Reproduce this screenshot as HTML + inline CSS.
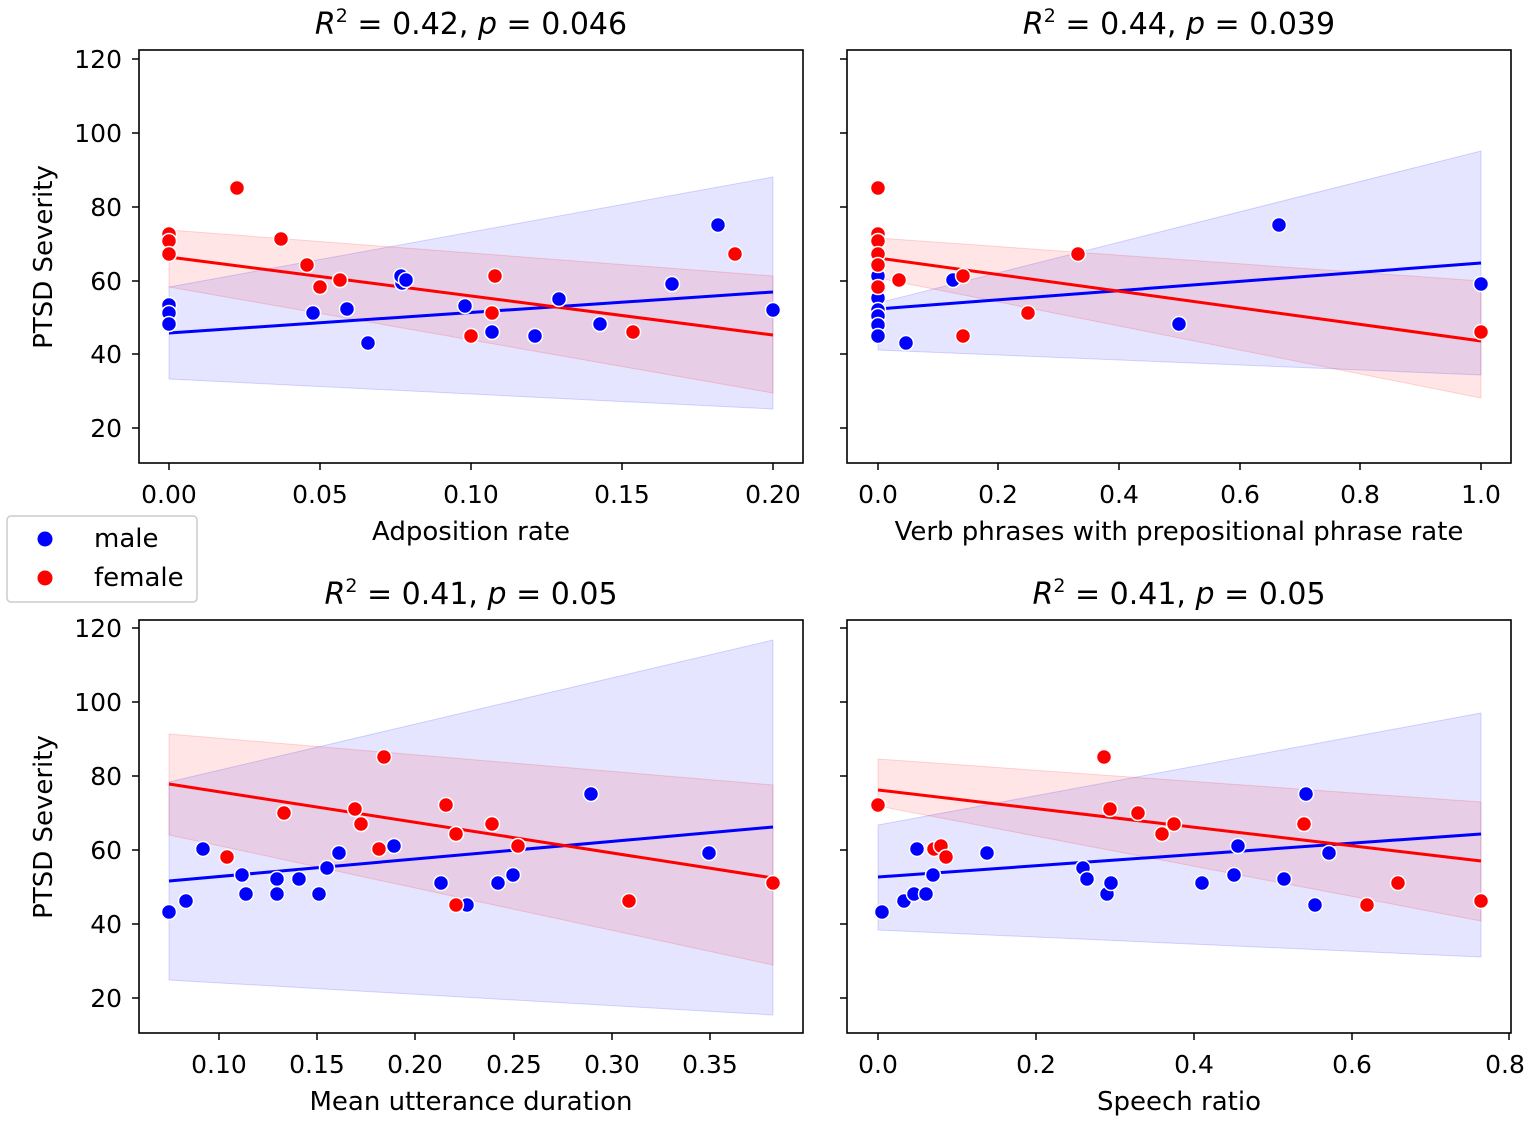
<!DOCTYPE html>
<html><head><meta charset="utf-8"><style>
body{margin:0;background:#fff}
svg text{font-family:"DejaVu Sans","Liberation Sans",sans-serif;fill:#000}
</style></head><body>
<svg width="1535" height="1121" viewBox="0 0 1535 1121" xmlns="http://www.w3.org/2000/svg">
<rect width="1535" height="1121" fill="#fff"/>
<!-- Panel 1 -->
<polygon points="169,287 773,177 773,409 169,379" fill="#0000ff" fill-opacity="0.1" stroke="#0000ff" stroke-opacity="0.15"/>
<polygon points="169,230 773,276 773,393 169,287" fill="#ff0000" fill-opacity="0.1" stroke="#ff0000" stroke-opacity="0.15"/>
<line x1="169" y1="333" x2="773" y2="292" stroke="#0000ff" stroke-width="3"/>
<line x1="169" y1="257" x2="773" y2="335" stroke="#ff0000" stroke-width="3"/>
<g fill="#0000ff" stroke="#fff" stroke-width="1.5">
<circle cx="169" cy="305" r="7.5"/><circle cx="169" cy="313" r="7.5"/><circle cx="169" cy="324" r="7.5"/><circle cx="313" cy="313" r="7.5"/><circle cx="347" cy="309" r="7.5"/><circle cx="368" cy="343" r="7.5"/><circle cx="402" cy="283" r="7.5"/><circle cx="401" cy="276" r="7.5"/><circle cx="406" cy="280" r="7.5"/><circle cx="465" cy="306" r="7.5"/><circle cx="492" cy="332" r="7.5"/><circle cx="535" cy="336" r="7.5"/><circle cx="559" cy="299" r="7.5"/><circle cx="600" cy="324" r="7.5"/><circle cx="672" cy="284" r="7.5"/><circle cx="718" cy="225" r="7.5"/><circle cx="773" cy="310" r="7.5"/></g>
<g fill="#ff0000" stroke="#fff" stroke-width="1.5">
<circle cx="169" cy="234" r="7.5"/><circle cx="169" cy="241" r="7.5"/><circle cx="169" cy="254" r="7.5"/><circle cx="237" cy="188" r="7.5"/><circle cx="281" cy="239" r="7.5"/><circle cx="307" cy="265" r="7.5"/><circle cx="320" cy="287" r="7.5"/><circle cx="340" cy="280" r="7.5"/><circle cx="471" cy="336" r="7.5"/><circle cx="492" cy="313" r="7.5"/><circle cx="495" cy="276" r="7.5"/><circle cx="633" cy="332" r="7.5"/><circle cx="735" cy="254" r="7.5"/></g>
<!-- Panel 2 -->
<polygon points="878,303 1481,151 1481,375 878,350" fill="#0000ff" fill-opacity="0.1" stroke="#0000ff" stroke-opacity="0.15"/>
<polygon points="878,238 1481,281 1481,398 878,278" fill="#ff0000" fill-opacity="0.1" stroke="#ff0000" stroke-opacity="0.15"/>
<line x1="878" y1="309" x2="1481" y2="263" stroke="#0000ff" stroke-width="3"/>
<line x1="878" y1="258" x2="1481" y2="341" stroke="#ff0000" stroke-width="3"/>
<g fill="#0000ff" stroke="#fff" stroke-width="1.5">
<circle cx="878" cy="276" r="7.5"/><circle cx="878" cy="289" r="7.5"/><circle cx="878" cy="298" r="7.5"/><circle cx="878" cy="310" r="7.5"/><circle cx="878" cy="316" r="7.5"/><circle cx="878" cy="325" r="7.5"/><circle cx="878" cy="336" r="7.5"/><circle cx="906" cy="343" r="7.5"/><circle cx="953" cy="280" r="7.5"/><circle cx="1179" cy="324" r="7.5"/><circle cx="1279" cy="225" r="7.5"/><circle cx="1481" cy="284" r="7.5"/></g>
<g fill="#ff0000" stroke="#fff" stroke-width="1.5">
<circle cx="878" cy="188" r="7.5"/><circle cx="878" cy="234" r="7.5"/><circle cx="878" cy="241" r="7.5"/><circle cx="878" cy="254" r="7.5"/><circle cx="878" cy="265" r="7.5"/><circle cx="878" cy="287" r="7.5"/><circle cx="899" cy="280" r="7.5"/><circle cx="963" cy="276" r="7.5"/><circle cx="963" cy="336" r="7.5"/><circle cx="1028" cy="313" r="7.5"/><circle cx="1078" cy="254" r="7.5"/><circle cx="1481" cy="332" r="7.5"/></g>
<!-- Panel 3 -->
<polygon points="169,782 773,640 773,1015 169,980" fill="#0000ff" fill-opacity="0.1" stroke="#0000ff" stroke-opacity="0.15"/>
<polygon points="169,734 773,785 773,965 169,835" fill="#ff0000" fill-opacity="0.1" stroke="#ff0000" stroke-opacity="0.15"/>
<line x1="169" y1="881" x2="773" y2="827" stroke="#0000ff" stroke-width="3"/>
<line x1="169" y1="784" x2="773" y2="878" stroke="#ff0000" stroke-width="3"/>
<g fill="#0000ff" stroke="#fff" stroke-width="1.5">
<circle cx="169" cy="912" r="7.5"/><circle cx="186" cy="901" r="7.5"/><circle cx="203" cy="849" r="7.5"/><circle cx="242" cy="875" r="7.5"/><circle cx="246" cy="894" r="7.5"/><circle cx="277" cy="879" r="7.5"/><circle cx="277" cy="894" r="7.5"/><circle cx="299" cy="879" r="7.5"/><circle cx="319" cy="894" r="7.5"/><circle cx="327" cy="868" r="7.5"/><circle cx="339" cy="853" r="7.5"/><circle cx="394" cy="846" r="7.5"/><circle cx="441" cy="883" r="7.5"/><circle cx="467" cy="905" r="7.5"/><circle cx="498" cy="883" r="7.5"/><circle cx="513" cy="875" r="7.5"/><circle cx="591" cy="794" r="7.5"/><circle cx="709" cy="853" r="7.5"/></g>
<g fill="#ff0000" stroke="#fff" stroke-width="1.5">
<circle cx="227" cy="857" r="7.5"/><circle cx="284" cy="813" r="7.5"/><circle cx="355" cy="809" r="7.5"/><circle cx="361" cy="824" r="7.5"/><circle cx="379" cy="849" r="7.5"/><circle cx="384" cy="757" r="7.5"/><circle cx="446" cy="805" r="7.5"/><circle cx="456" cy="834" r="7.5"/><circle cx="456" cy="905" r="7.5"/><circle cx="492" cy="824" r="7.5"/><circle cx="518" cy="846" r="7.5"/><circle cx="629" cy="901" r="7.5"/><circle cx="773" cy="883" r="7.5"/></g>
<!-- Panel 4 -->
<polygon points="878,825 1481,713 1481,957 878,930" fill="#0000ff" fill-opacity="0.1" stroke="#0000ff" stroke-opacity="0.15"/>
<polygon points="878,759 1481,802 1481,921 878,806" fill="#ff0000" fill-opacity="0.1" stroke="#ff0000" stroke-opacity="0.15"/>
<line x1="878" y1="877" x2="1481" y2="834" stroke="#0000ff" stroke-width="3"/>
<line x1="878" y1="790" x2="1481" y2="861" stroke="#ff0000" stroke-width="3"/>
<g fill="#0000ff" stroke="#fff" stroke-width="1.5">
<circle cx="882" cy="912" r="7.5"/><circle cx="904" cy="901" r="7.5"/><circle cx="914" cy="894" r="7.5"/><circle cx="917" cy="849" r="7.5"/><circle cx="926" cy="894" r="7.5"/><circle cx="933" cy="875" r="7.5"/><circle cx="987" cy="853" r="7.5"/><circle cx="1083" cy="868" r="7.5"/><circle cx="1087" cy="879" r="7.5"/><circle cx="1107" cy="894" r="7.5"/><circle cx="1111" cy="883" r="7.5"/><circle cx="1202" cy="883" r="7.5"/><circle cx="1234" cy="875" r="7.5"/><circle cx="1238" cy="846" r="7.5"/><circle cx="1284" cy="879" r="7.5"/><circle cx="1306" cy="794" r="7.5"/><circle cx="1315" cy="905" r="7.5"/><circle cx="1329" cy="853" r="7.5"/></g>
<g fill="#ff0000" stroke="#fff" stroke-width="1.5">
<circle cx="878" cy="805" r="7.5"/><circle cx="934" cy="849" r="7.5"/><circle cx="941" cy="846" r="7.5"/><circle cx="946" cy="857" r="7.5"/><circle cx="1104" cy="757" r="7.5"/><circle cx="1110" cy="809" r="7.5"/><circle cx="1138" cy="813" r="7.5"/><circle cx="1162" cy="834" r="7.5"/><circle cx="1174" cy="824" r="7.5"/><circle cx="1304" cy="824" r="7.5"/><circle cx="1367" cy="905" r="7.5"/><circle cx="1398" cy="883" r="7.5"/><circle cx="1481" cy="901" r="7.5"/></g>
<!-- Frames -->
<g fill="none" stroke="#000" stroke-width="1.6">
<rect x="139" y="50" width="664" height="413"/><rect x="847" y="50" width="664" height="413"/>
<rect x="139" y="620" width="664" height="413"/><rect x="847" y="620" width="664" height="413"/>
</g>
<!-- Y ticks -->
<g stroke="#000" stroke-width="1.5">
<line x1="132" y1="59" x2="139" y2="59"/><line x1="132" y1="133" x2="139" y2="133"/><line x1="132" y1="207" x2="139" y2="207"/><line x1="132" y1="281" x2="139" y2="281"/><line x1="132" y1="354" x2="139" y2="354"/><line x1="132" y1="428" x2="139" y2="428"/>
<line x1="840" y1="59" x2="847" y2="59"/><line x1="840" y1="133" x2="847" y2="133"/><line x1="840" y1="207" x2="847" y2="207"/><line x1="840" y1="281" x2="847" y2="281"/><line x1="840" y1="354" x2="847" y2="354"/><line x1="840" y1="428" x2="847" y2="428"/>
<line x1="132" y1="628" x2="139" y2="628"/><line x1="132" y1="702" x2="139" y2="702"/><line x1="132" y1="776" x2="139" y2="776"/><line x1="132" y1="850" x2="139" y2="850"/><line x1="132" y1="924" x2="139" y2="924"/><line x1="132" y1="998" x2="139" y2="998"/>
<line x1="840" y1="628" x2="847" y2="628"/><line x1="840" y1="702" x2="847" y2="702"/><line x1="840" y1="776" x2="847" y2="776"/><line x1="840" y1="850" x2="847" y2="850"/><line x1="840" y1="924" x2="847" y2="924"/><line x1="840" y1="998" x2="847" y2="998"/>
<line x1="169" y1="463" x2="169" y2="470"/><line x1="320" y1="463" x2="320" y2="470"/><line x1="471" y1="463" x2="471" y2="470"/><line x1="622" y1="463" x2="622" y2="470"/><line x1="773" y1="463" x2="773" y2="470"/>
<line x1="878" y1="463" x2="878" y2="470"/><line x1="998" y1="463" x2="998" y2="470"/><line x1="1119" y1="463" x2="1119" y2="470"/><line x1="1240" y1="463" x2="1240" y2="470"/><line x1="1360" y1="463" x2="1360" y2="470"/><line x1="1481" y1="463" x2="1481" y2="470"/>
<line x1="219" y1="1033" x2="219" y2="1040"/><line x1="317" y1="1033" x2="317" y2="1040"/><line x1="415" y1="1033" x2="415" y2="1040"/><line x1="514" y1="1033" x2="514" y2="1040"/><line x1="612" y1="1033" x2="612" y2="1040"/><line x1="710" y1="1033" x2="710" y2="1040"/>
<line x1="878" y1="1033" x2="878" y2="1040"/><line x1="1036" y1="1033" x2="1036" y2="1040"/><line x1="1194" y1="1033" x2="1194" y2="1040"/><line x1="1352" y1="1033" x2="1352" y2="1040"/><line x1="1509" y1="1033" x2="1509" y2="1040"/>
</g>
<g font-size="25" text-anchor="end">
<text x="122" y="68">120</text><text x="122" y="142">100</text><text x="122" y="216">80</text><text x="122" y="290">60</text><text x="122" y="363">40</text><text x="122" y="437">20</text>
<text x="122" y="637">120</text><text x="122" y="711">100</text><text x="122" y="785">80</text><text x="122" y="859">60</text><text x="122" y="933">40</text><text x="122" y="1007">20</text>
</g>
<g font-size="25" text-anchor="middle">
<text x="169" y="503">0.00</text><text x="320" y="503">0.05</text><text x="471" y="503">0.10</text><text x="622" y="503">0.15</text><text x="773" y="503">0.20</text>
<text x="878" y="503">0.0</text><text x="998" y="503">0.2</text><text x="1119" y="503">0.4</text><text x="1240" y="503">0.6</text><text x="1360" y="503">0.8</text><text x="1481" y="503">1.0</text>
<text x="219" y="1073">0.10</text><text x="317" y="1073">0.15</text><text x="415" y="1073">0.20</text><text x="514" y="1073">0.25</text><text x="612" y="1073">0.30</text><text x="710" y="1073">0.35</text>
<text x="878" y="1073">0.0</text><text x="1036" y="1073">0.2</text><text x="1194" y="1073">0.4</text><text x="1352" y="1073">0.6</text><text x="1505" y="1073">0.8</text>
<text x="471" y="540" font-size="26">Adposition rate</text>
<text x="1179" y="540" font-size="26">Verb phrases with prepositional phrase rate</text>
<text x="471" y="1110" font-size="26">Mean utterance duration</text>
<text x="1179" y="1110" font-size="26">Speech ratio</text>
<text x="471" y="34" font-size="30"><tspan font-style="italic">R</tspan><tspan font-size="19" dy="-12">2</tspan><tspan dy="12"> = 0.42, </tspan><tspan font-style="italic">p</tspan> = 0.046</text>
<text x="1179" y="34" font-size="30"><tspan font-style="italic">R</tspan><tspan font-size="19" dy="-12">2</tspan><tspan dy="12"> = 0.44, </tspan><tspan font-style="italic">p</tspan> = 0.039</text>
<text x="471" y="604" font-size="30"><tspan font-style="italic">R</tspan><tspan font-size="19" dy="-12">2</tspan><tspan dy="12"> = 0.41, </tspan><tspan font-style="italic">p</tspan> = 0.05</text>
<text x="1179" y="604" font-size="30"><tspan font-style="italic">R</tspan><tspan font-size="19" dy="-12">2</tspan><tspan dy="12"> = 0.41, </tspan><tspan font-style="italic">p</tspan> = 0.05</text>
</g>
<text font-size="26" text-anchor="middle" transform="translate(52,257) rotate(-90)">PTSD Severity</text>
<text font-size="26" text-anchor="middle" transform="translate(52,827) rotate(-90)">PTSD Severity</text>
<rect x="7" y="516" width="190" height="86" rx="4" fill="#fff" stroke="#ccc" stroke-width="1.5"/>
<circle cx="45" cy="539" r="7.5" fill="#0000ff"/><circle cx="45" cy="578" r="7.5" fill="#ff0000"/>
<text x="94" y="547" font-size="26">male</text><text x="94" y="586" font-size="26">female</text>
</svg>
</body></html>
